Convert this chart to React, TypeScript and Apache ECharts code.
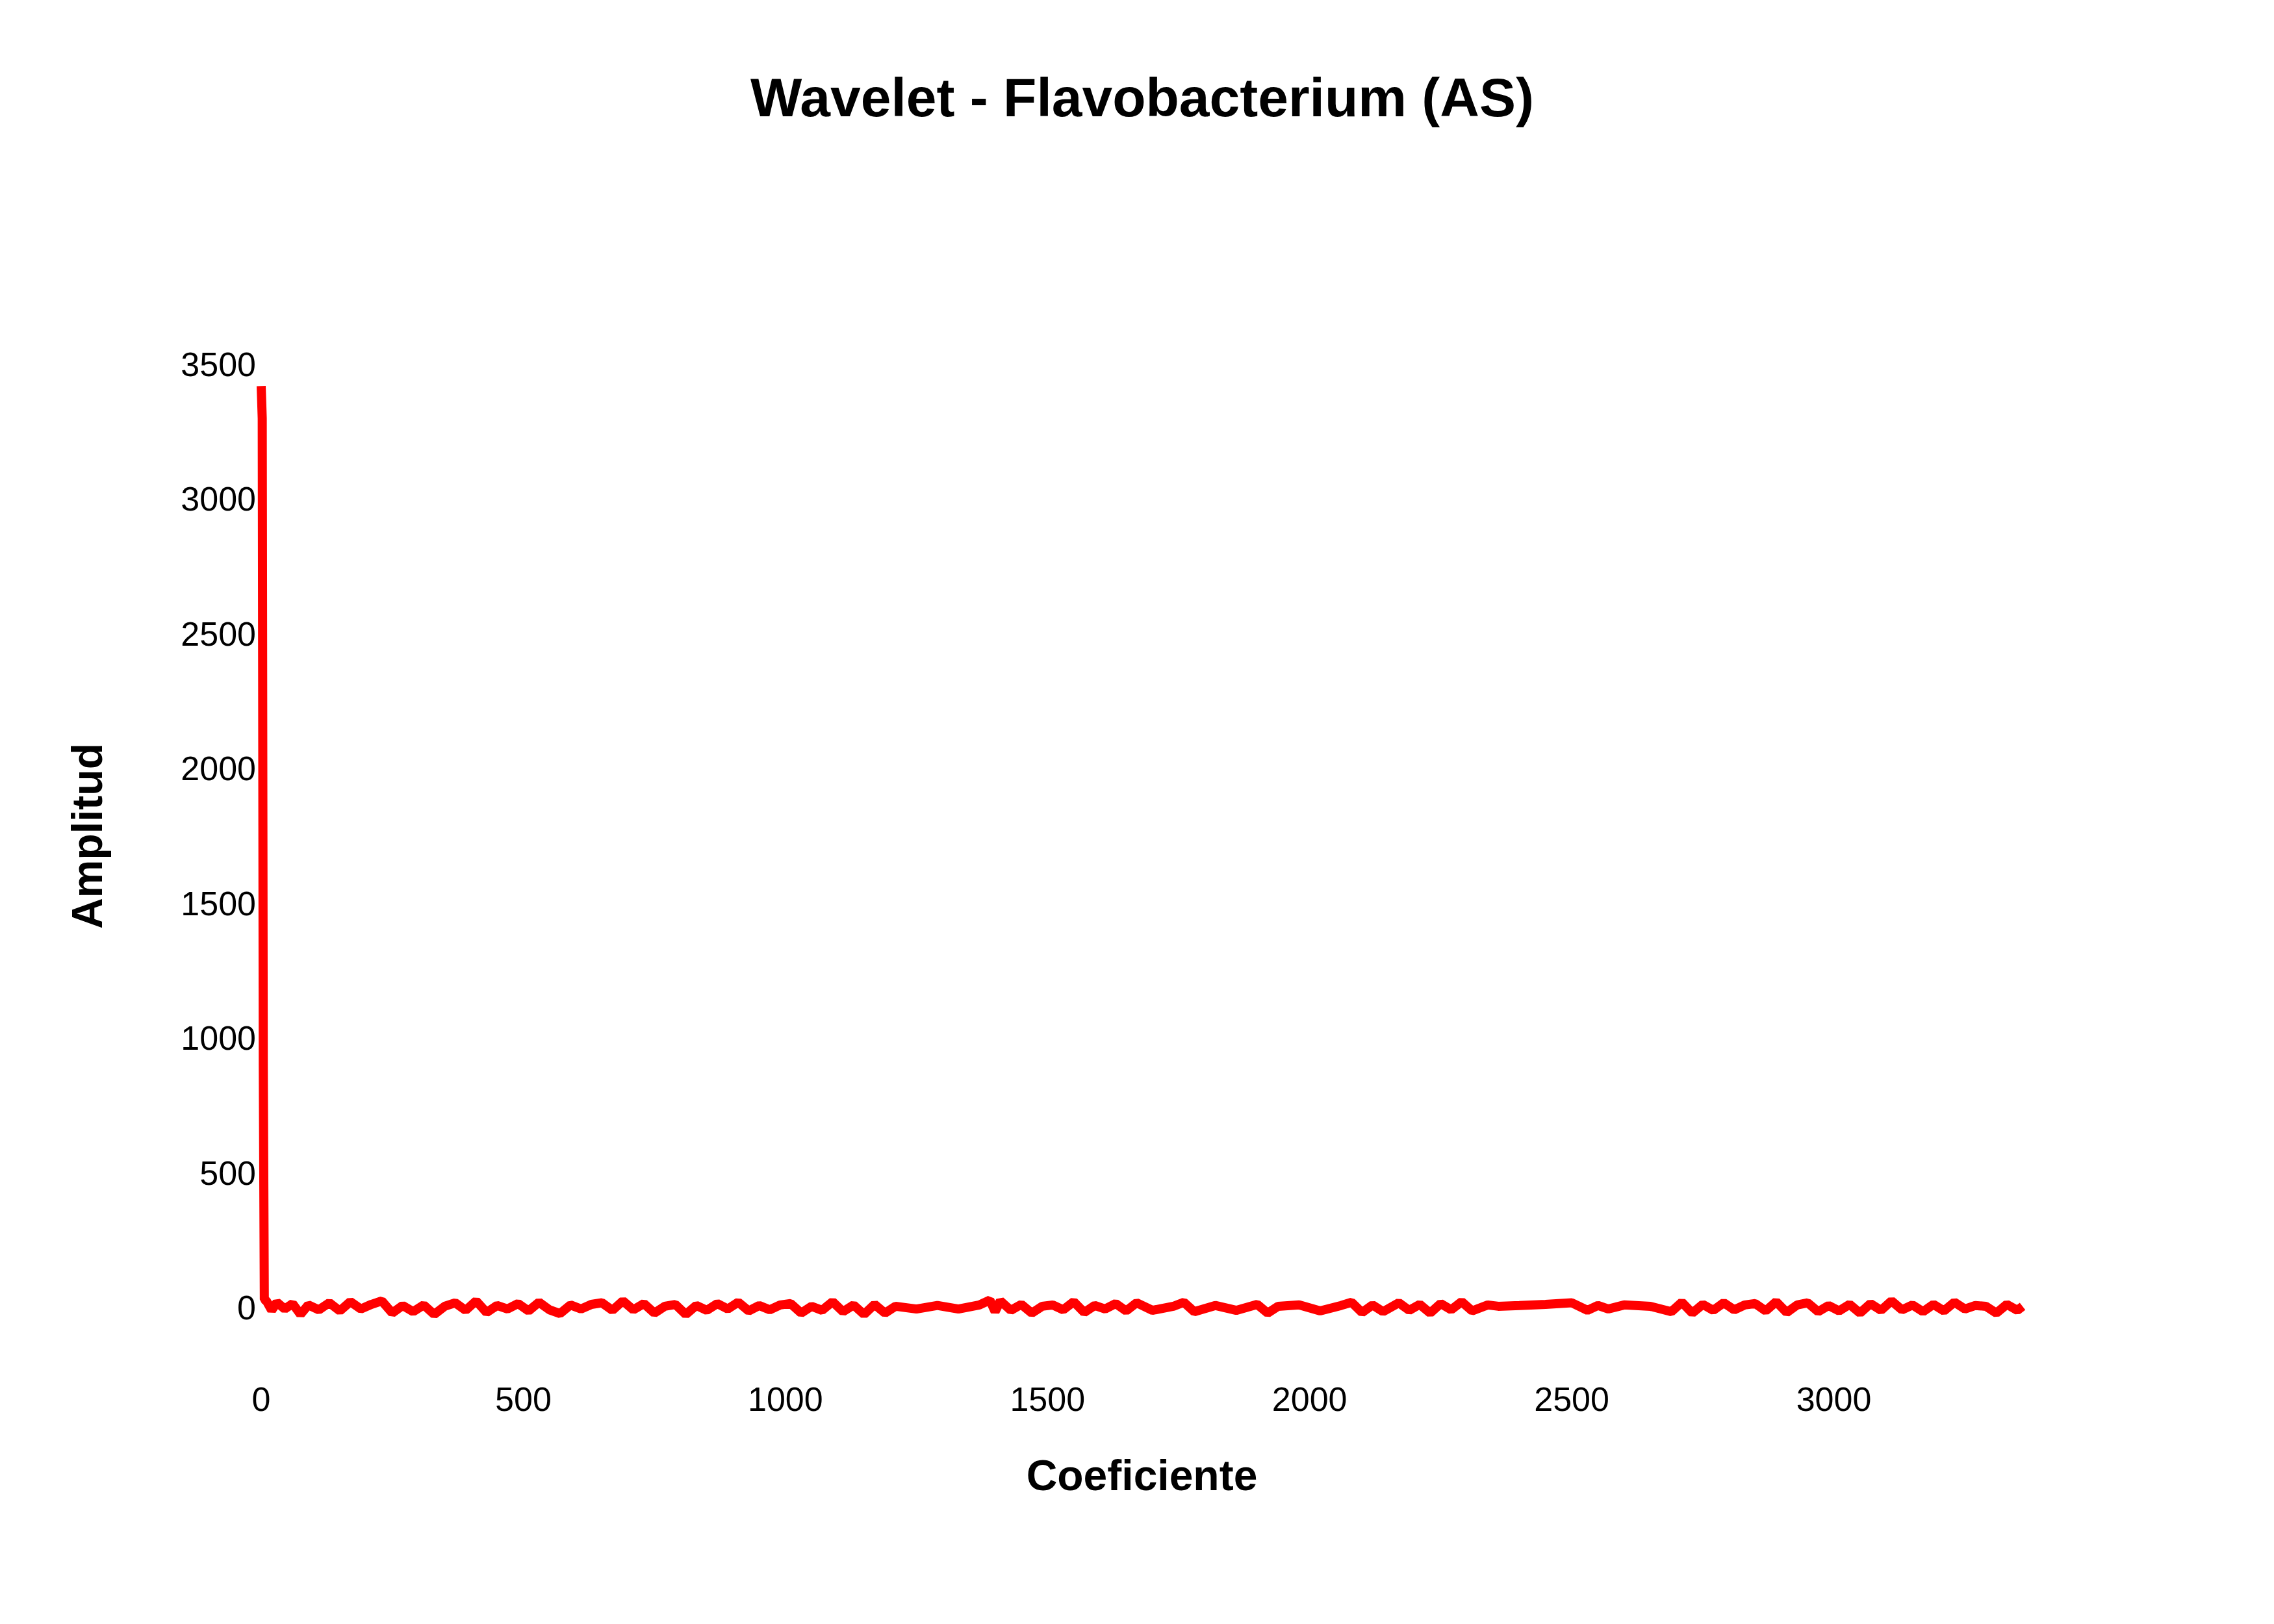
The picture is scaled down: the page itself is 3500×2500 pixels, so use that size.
import React, { useEffect, useRef } from "react";
import * as echarts from "echarts";

// Coeficiente (x) and Amplitud (y)
const coefIdx = [
  0, 2, 4, 6, 10, 20, 30, 45, 60, 75, 90, 110, 130, 150, 170, 190, 210, 230, 250, 270,
  290, 310, 330, 350, 370, 390, 410, 430, 450, 470, 490, 510, 530, 550, 570, 590, 610, 630,
  650, 670, 690, 710, 730, 750, 770, 790, 810, 830, 850, 870, 890, 910, 930, 950, 970, 990,
  1010, 1030, 1050, 1070, 1090, 1110, 1130, 1150, 1170, 1190, 1210, 1250, 1290, 1330, 1370,
  1390, 1400, 1410, 1430, 1450, 1470, 1490, 1510, 1530, 1550, 1570, 1590, 1610, 1630, 1650,
  1670, 1700, 1740, 1760, 1780, 1820, 1860, 1900, 1920, 1940, 1980, 2020, 2060, 2080, 2100,
  2120, 2140, 2170, 2190, 2210, 2230, 2250, 2270, 2290, 2310, 2340, 2360, 2400, 2450, 2500,
  2530, 2550, 2570, 2600, 2650, 2690, 2710, 2730, 2750, 2770, 2790, 2810, 2830, 2850, 2870,
  2890, 2910, 2930, 2950, 2970, 2990, 3010, 3030, 3050, 3070, 3090, 3110, 3130, 3150, 3170,
  3190, 3210, 3230, 3250, 3270, 3290, 3310, 3330, 3350, 3360,
];
const amplitude = [
  3420, 3300, 900, 30, 25, -10, 20, -5, 15, -25, 10, -8, 18, -12, 22, -5, 12, 25, -20, 8,
  -15, 10, -25, 5, 18, -10, 25, -18, 8, -5, 15, -12, 20, -8, -22, 10, -5, 12, 18, -10, 25,
  -8, 15, -20, 5, 12, -25, 8, -10, 15, -5, 20, -12, 8, -8, 10, 15, -20, 5, -10, 22, -15, 10,
  -25, 12, -20, 5, -5, 8, -5, 10, 28, -15, 25, -10, 12, -20, 5, 10, -8, 22, -18, 8, -5, 15,
  -12, 18, -10, 5, 20, -15, 8, -10, 12, -20, 5, 10, -12, 8, 20, -18, 10, -15, 18, -10, 12,
  -20, 15, -8, 22, -12, 10, 5, 8, 12, 18, -10, 8, -5, 10, 5, -15, 20, -20, 12, -10, 18, -8,
  10, 15, -12, 22, -18, 10, 18, -15, 8, -12, 12, -20, 15, -10, 25, -8, 10, -15, 12, -12, 20,
  -5, 8, 5, -20, 12, -10, 5,
];

const App: React.FC = () => {
  const chartRef = useRef<HTMLDivElement>(null);

  useEffect(() => {
    if (!chartRef.current) return;
    const chart = echarts.init(chartRef.current, null, { renderer: "svg" });
    const font = "'Liberation Sans', Arial, sans-serif";
    chart.setOption({
      animation: false,
      backgroundColor: "#ffffff",
      title: {
        text: "Wavelet - Flavobacterium (AS)",
        left: "center",
        top: 95,
        textStyle: { fontFamily: font, fontSize: 84, fontWeight: "bold", color: "#000" },
      },
      grid: { left: 394, right: 395, top: 553, bottom: 495 },
      xAxis: {
        type: "value",
        min: 0,
        max: 3360,
        interval: 500,
        name: "Coeficiente",
        nameLocation: "middle",
        nameGap: 225,
        nameTextStyle: { fontFamily: font, fontSize: 66, fontWeight: "bold", color: "#000" },
        axisLine: { show: false },
        axisTick: { show: false },
        splitLine: { show: false },
        axisLabel: {
          fontFamily: font,
          fontSize: 52,
          color: "#000",
          margin: 115,
          formatter: (v: number) => (v % 500 === 0 ? String(v) : ""),
        },
      },
      yAxis: {
        type: "value",
        min: 0,
        max: 3500,
        interval: 500,
        name: "Amplitud",
        nameLocation: "middle",
        nameGap: 235,
        nameTextStyle: { fontFamily: font, fontSize: 66, fontWeight: "bold", color: "#000" },
        axisLine: { show: false },
        axisTick: { show: false },
        splitLine: { show: false },
        axisLabel: { fontFamily: font, fontSize: 52, color: "#000", margin: 8, formatter: (v: number) => String(v) },
      },
      series: [
        {
          type: "line",
          data: coefIdx.map((x, i) => [x, amplitude[i]]),
          symbol: "none",
          clip: false,
          lineStyle: { color: "#ff0000", width: 14 },
        },
      ],
    });
    return () => chart.dispose();
  }, []);

  return <div ref={chartRef} style={{ width: 3500, height: 2500 }} />;
};

export default App;
